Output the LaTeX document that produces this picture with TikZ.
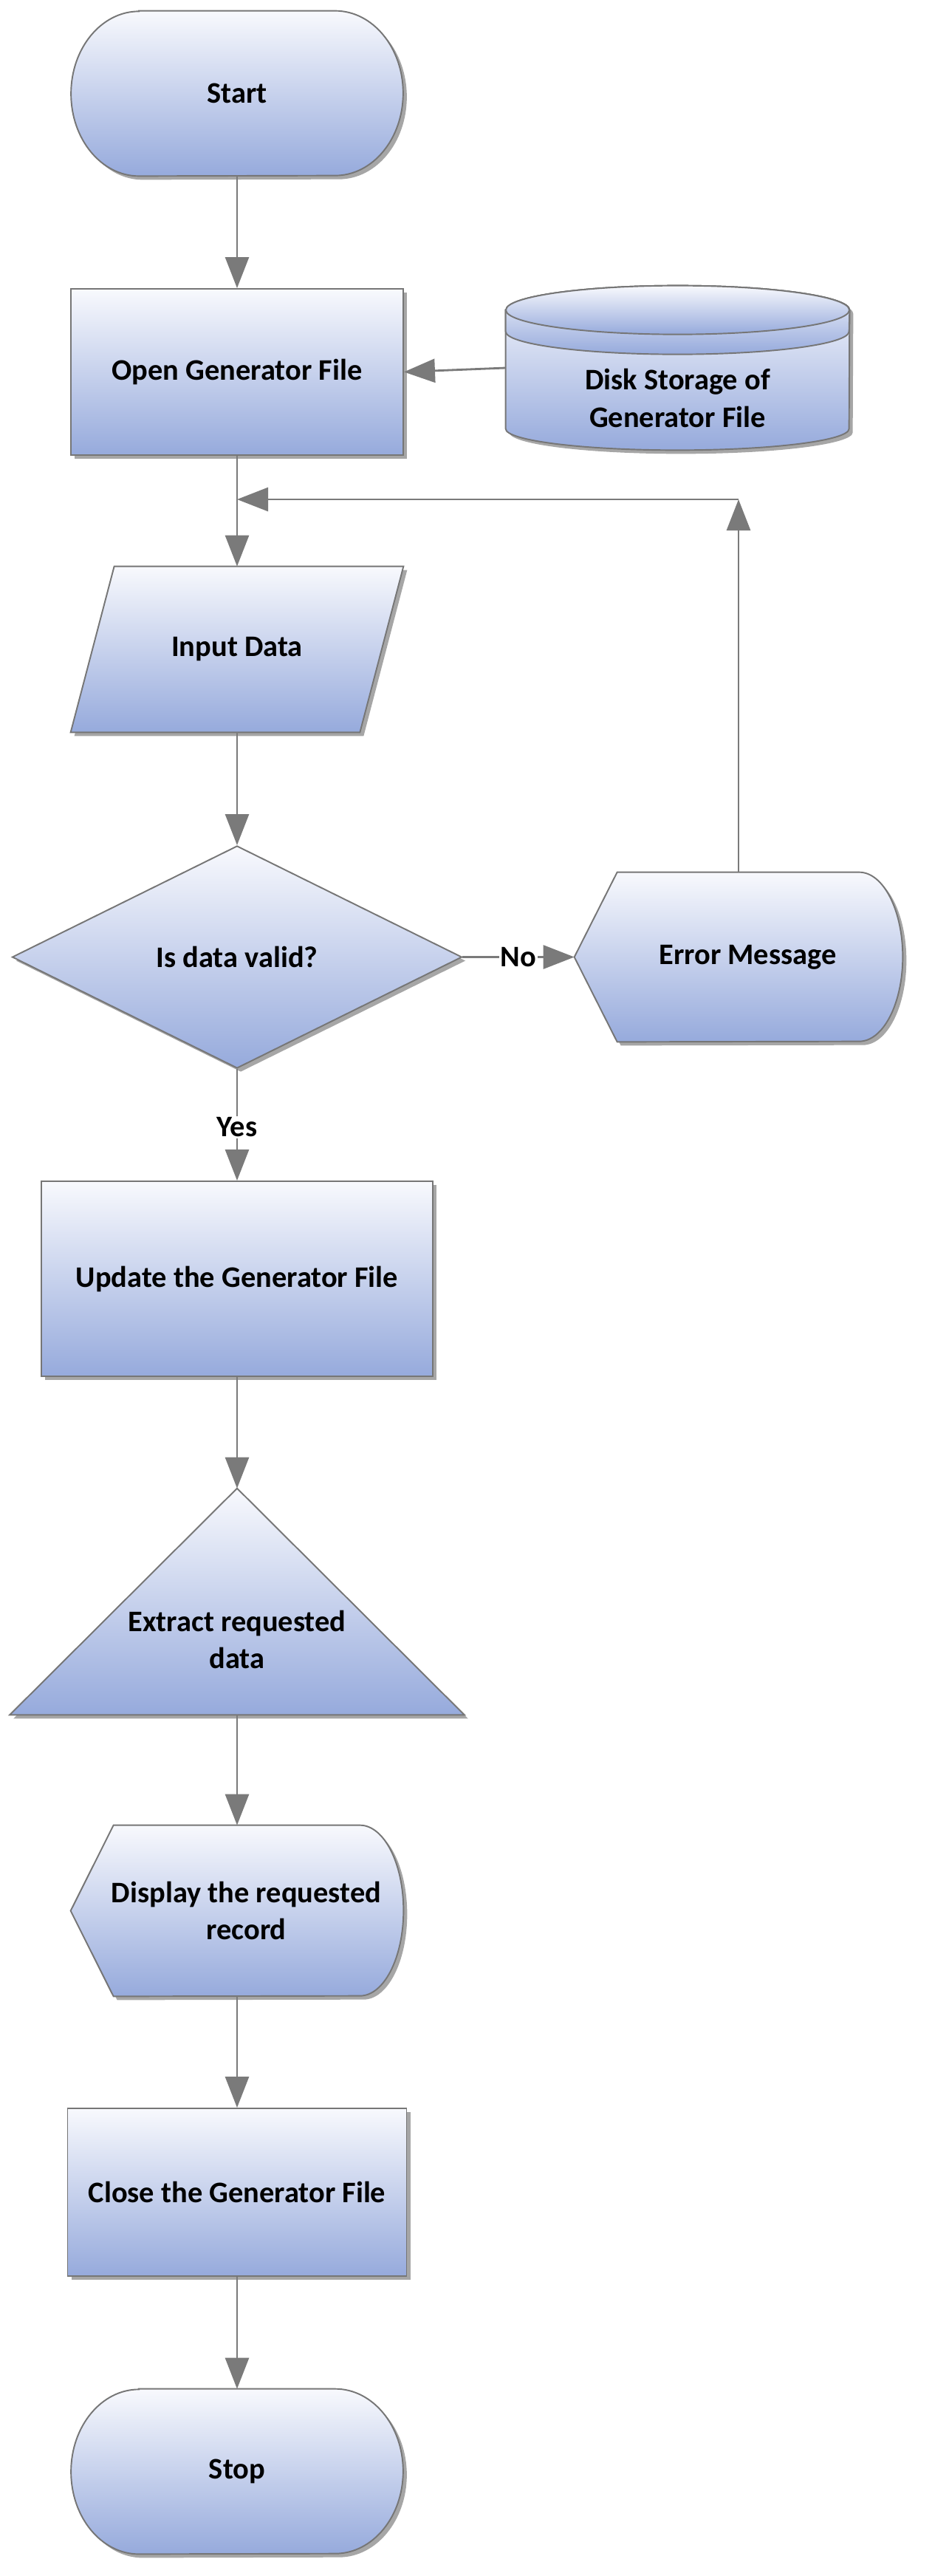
\documentclass[tikz,border=0pt]{standalone}
\usepackage{fontspec}
\setmainfont{Carlito}
\usetikzlibrary{positioning,arrows.meta,calc,shapes.geometric,shadows,backgrounds}
\definecolor{FlowTop}{RGB}{248,249,253}
\definecolor{FlowBottom}{RGB}{150,170,220}
\definecolor{EdgeGray}{RGB}{118,118,118}
\definecolor{ArrowGray}{RGB}{122,122,122}

\tikzset{
  bluefill/.style={draw=EdgeGray, line width=1.1pt, top color=FlowTop, bottom color=FlowBottom},
  softshadow/.style={drop shadow={shadow xshift=0.1cm, shadow yshift=-0.1cm, fill=black, opacity=0.35}},
  procbox/.style={rectangle, bluefill, softshadow, inner sep=0pt},
  holder/.style={rectangle, inner sep=0pt},
  flow/.style={-{Triangle[length=0.84cm, width=0.64cm]}, line width=1.6pt, ArrowGray},
  answer/.style={fill=white, text=black, inner sep=1pt}
}

\begin{document}
\begin{tikzpicture}[every node/.style={font=\bfseries\fontsize{23}{28.5}\selectfont, align=center}]
  \useasboundingbox (0,0) rectangle (25.68,-69.74);

  \node[holder, minimum width=8.98cm, minimum height=4.46cm] (start) at (6.42,-2.53) {Start};
  \node[procbox, minimum width=9.0cm, minimum height=4.5cm] (open) at (6.42,-10.07) {Open Generator File};
  \node[holder, minimum width=9.3cm, minimum height=4.44cm, label={[yshift=-0.82cm]center:{Disk Storage of\\Generator File}}] (disk) at (18.35,-9.96) {};
  \node[holder, minimum width=9.0cm, minimum height=4.48cm] (input) at (6.42,-17.58) {Input Data};
  \node[diamond, aspect=2, bluefill, softshadow, inner sep=0pt, minimum width=12.18cm, minimum height=6.02cm] (valid) at (6.42,-25.91) {Is data valid?};
  \node[holder, minimum width=8.88cm, minimum height=4.58cm] (error) at (20.0,-25.91) {\hspace{0.5cm}Error Message};
  \node[procbox, minimum width=10.6cm, minimum height=5.28cm] (update) at (6.42,-34.62) {Update the Generator File};
  \node[holder, minimum width=12.3cm, minimum height=6.12cm, label={[yshift=-1.02cm]center:{Extract requested\\data}}] (extract) at (6.42,-43.36) {};
  \node[holder, minimum width=9.0cm, minimum height=4.62cm] (show) at (6.42,-51.73) {\hspace{0.5cm}Display the requested\\\hspace{0.5cm}record};
  \node[procbox, minimum width=9.18cm, minimum height=4.54cm] (close) at (6.42,-59.35) {Close the Generator File};
  \node[holder, minimum width=8.98cm, minimum height=4.46cm] (stop) at (6.42,-66.91) {Stop};

  \begin{scope}[on background layer]
    % terminals
    \foreach \t in {start,stop}
      \path[bluefill, softshadow] ($(\t.north west)+(1.84,0)$) -- ($(\t.north east)+(-1.84,0)$)
        arc[start angle=90, end angle=-90, x radius=1.84cm, y radius=2.23cm]
        -- ($(\t.south west)+(1.84,0)$)
        arc[start angle=270, end angle=90, x radius=1.84cm, y radius=2.23cm] -- cycle;
    % displays
    \foreach \t/\r in {error/2.29, show/2.31}
      \path[bluefill, softshadow] (\t.west) -- ($(\t.north west)+(1.16,0)$) -- ($(\t.north east)+(-1.18,0)$)
        arc[start angle=90, end angle=-90, x radius=1.18cm, y radius=\r cm]
        -- ($(\t.south west)+(1.16,0)$) -- cycle;
    \path[bluefill, softshadow] ($(input.north west)+(1.18,0)$) -- (input.north east)
      -- ($(input.south east)+(-1.18,0)$) -- (input.south west) -- cycle;
    \path[bluefill, softshadow] (extract.north) -- (extract.south east) -- (extract.south west) -- cycle;
    % stored data
    \path[bluefill, softshadow] ($(disk.north west)+(0,-0.66)$) -- ($(disk.south west)+(0,0.58)$)
      arc[start angle=180, end angle=360, x radius=4.65cm, y radius=0.58cm]
      -- ($(disk.north east)+(0,-0.66)$)
      arc[start angle=0, end angle=180, x radius=4.65cm, y radius=0.66cm] -- cycle;
    \path[bluefill] ($(disk.north west)+(0,-0.66)$) -- ($(disk.north west)+(0,-1.24)$)
      arc[start angle=180, end angle=360, x radius=4.65cm, y radius=0.62cm]
      -- ($(disk.north east)+(0,-0.66)$)
      arc[start angle=0, end angle=180, x radius=4.65cm, y radius=0.66cm] -- cycle;
    \path[bluefill] ($(disk.north)+(0,-0.66)$) ellipse[x radius=4.65cm, y radius=0.66cm];
  \end{scope}

  \draw[flow] (start.south) -- (open.north);
  \draw[flow] (disk.west) -- (open.east);
  \draw[flow] (open.south) -- (input.north);
  \draw[flow] (input.south) -- (valid.north);
  \draw[flow] (valid.east) -- node[answer]{No} (error.west);
  \draw[flow] (valid.south) -- node[answer, pos=0.52]{Yes} (update.north);
  \draw[flow] (update.south) -- (extract.north);
  \draw[flow] (extract.south) -- (show.north);
  \draw[flow] (show.south) -- (close.north);
  \draw[flow] (close.south) -- (stop.north);
  % loop back
  \coordinate (loop) at (error.north |- 0,-13.52);
  \draw[flow] (error.north) -- (loop);
  \draw[flow] (loop) -- (loop -| open.south);
\end{tikzpicture}
\end{document}
